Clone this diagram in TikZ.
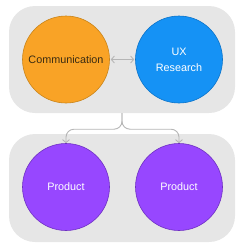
\documentclass[tikz,border=0pt]{standalone}
\usepackage{fontspec}
\setmainfont{Liberation Sans}
\usetikzlibrary{arrows.meta,positioning,calc}
\definecolor{naranja}{HTML}{F9A326}
\definecolor{naranjaborde}{HTML}{C98419}
\definecolor{azul}{HTML}{1592F5}
\definecolor{azulborde}{HTML}{0B73C9}
\definecolor{morado}{HTML}{9747FF}
\definecolor{moradoborde}{HTML}{6E30C2}
\definecolor{fondo}{HTML}{E6E6E6}
\definecolor{flecha}{HTML}{B5B5B5}
\definecolor{tinta}{HTML}{3A2C12}

\begin{document}
\begin{tikzpicture}[x=1pt,y=-1pt,
  every node/.style={font=\fontsize{10.8}{16}\selectfont,align=center},
  grupo/.style={draw=none,fill=fondo,rounded corners=26pt,minimum width=226pt,minimum height=107pt,inner sep=0pt},
  bola/.style={circle,minimum size=87pt,inner sep=0pt,line width=0.6pt},
  link/.style={draw=flecha,line width=0.9pt,-{Straight Barb[length=3pt,width=7pt]}}]
  \useasboundingbox (0,0) rectangle (249,247);
  % grupos
  \node[grupo] (arriba) at (122,59.5) {};
  \node[grupo,minimum height=108pt] (abajo) at (122,188) {};
  % circulos
  \node[bola,fill=naranja,draw=naranjaborde,text=tinta] (comm) at (66,59.5) {Communication};
  \node[bola,fill=azul,draw=azulborde,text=white] (uxr) at (179,59.5) {UX\\Research};
  \node[bola,fill=morado,draw=moradoborde,text=white] (prodA) at (66,187) {Product};
  \node[bola,fill=morado,draw=moradoborde,text=white] (prodB) at (179,187) {Product};
  % flechas
  \draw[link,{Straight Barb[length=3pt,width=7pt]}-{Straight Barb[length=3pt,width=7pt]},shorten <=1pt,shorten >=1pt] (comm) -- (uxr);
  \coordinate (codo) at ($(arriba.south)+(0,16)$);
  \draw[link,rounded corners=8pt] (arriba.south) -- (codo) -| (prodA.north);
  \draw[link,rounded corners=8pt] (arriba.south) -- (codo) -| (prodB.north);
\end{tikzpicture}
\end{document}
